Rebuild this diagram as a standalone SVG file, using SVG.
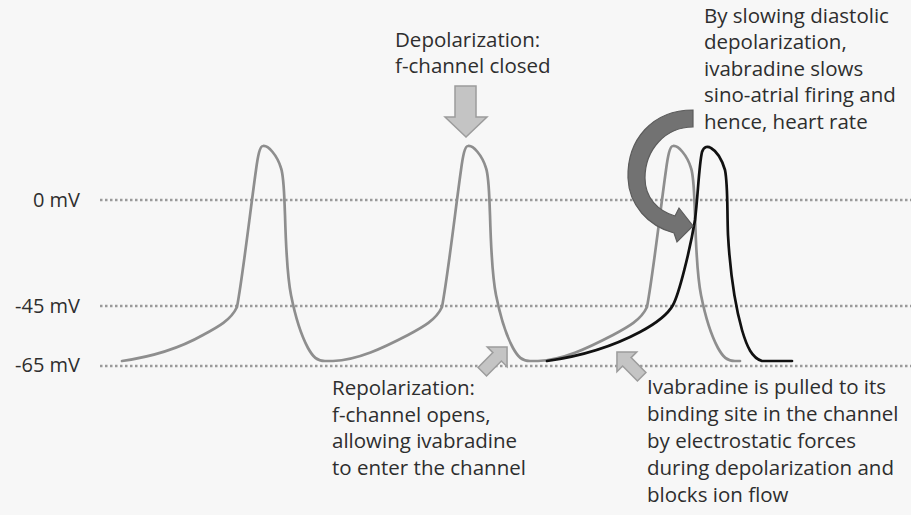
<svg xmlns="http://www.w3.org/2000/svg" width="911" height="515" viewBox="0 0 911 515">
  <style>
    .txt { font-family: "Open Sans", "Noto Sans", "Liberation Sans", sans-serif; font-size: 20.5px; fill: #2e2e2e; }
    .axis { font-family: "Open Sans", "Noto Sans", "Liberation Sans", sans-serif; font-size: 20px; fill: #2e2e2e; text-anchor: end; }
    .grid { stroke: #9a9a9a; stroke-width: 2.5; stroke-dasharray: 2.5 2.5; fill: none; }
    .gray { stroke: #8e8e8e; stroke-width: 2.7; fill: none; stroke-linejoin: round; stroke-linecap: round; }
    .black { stroke: #111111; stroke-width: 2.7; fill: none; stroke-linejoin: round; stroke-linecap: round; }
    .blk { fill: #c4c4c4; stroke: #9c9c9c; stroke-width: 1.5; stroke-linejoin: miter; }
    .curved { fill: #727272; stroke: #5c5c5c; stroke-width: 1.2; }
  </style>
  <defs>
    <polygon id="blockArrow" points="0,-6 21,-6 21,-14 35,0 21,14 21,6 0,6"/>
  </defs>
  <rect width="911" height="515" fill="#f7f7f7"/>

  <g id="grid">
    <line class="grid" x1="100" y1="200" x2="911" y2="200"/>
    <line class="grid" x1="100" y1="306" x2="911" y2="306"/>
    <line class="grid" x1="100" y1="366" x2="911" y2="366"/>
  </g>

  <g id="axis-labels">
    <text class="axis" x="80" y="207">0 mV</text>
    <text class="axis" x="80" y="313">-45 mV</text>
    <text class="axis" x="80" y="372">-65 mV</text>
  </g>

  <g id="baseline-trace">
    <path class="gray" d="M122,361 C150,357 180,348 203,335 C218,327 231,320 237,307 C243,275 251,205 256,170 C258,155 260,146 263,146 C268,145 277,155 281,168 C284,177 284,190 285,215 C286,250 287,275 291,295 C295,315 301,335 308,348 C313,357 317,361 325,361 L333,361 C358,360 383,348 408,335 C423,327 436,320 442,307 C448,275 456,205 461,170 C463,155 465,146 468,146 C473,145 482,155 486,168 C489,177 489,190 490,215 C491,250 492,275 496,295 C500,315 506,335 513,348 C518,357 522,361 530,361 L538,361 C563,360 588,348 613,335 C628,327 641,320 647,307 C653,275 661,205 666,170 C668,155 670,146 673,146 C678,145 687,155 691,168 C694,177 694,190 695,215 C696,250 697,275 701,295 C705,315 711,335 718,348 C723,357 727,361 735,361 L740,361"/>
  </g>

  <g id="ivabradine-trace">
    <path class="black" d="M547,361 C575,357 610,348 640,332 C655,324 667,316 673,305 C679,294 690,250 695,220 C698,195 699,165 702,152 C704,146 708,146 711,148 C718,152 722,160 725,170 C728,185 727,210 728,235 C730,270 735,305 742,330 C747,347 752,358 762,361 L792,361"/>
  </g>

  <g id="connectors">
    <polygon id="arrow-depolarization" class="blk" points="455,86 476,86 476,117 487,117 466,137 445,117 455,117"/>
    <use id="arrow-repolarization" href="#blockArrow" class="blk" transform="translate(482.3,371.7) rotate(-45)"/>
    <use id="arrow-binding" href="#blockArrow" class="blk" transform="translate(641.7,376.7) rotate(-135)"/>
    <path id="arrow-slowing" class="curved" d="M693,110 C652,110 627,140 628,178 C629,205 648,226 674,233 L677,242 L693,226 L679,208 L675,216 C658,211 645,198 645,178 C645,150 665,127 693,127 Z"/>
  </g>

  <g id="label-depolarization">
    <text class="txt" x="395" y="47">Depolarization:</text>
    <text class="txt" x="395" y="73">f-channel closed</text>
  </g>

  <g id="label-slowing">
    <text class="txt" x="704" y="23">By slowing diastolic</text>
    <text class="txt" x="704" y="49">depolarization,</text>
    <text class="txt" x="704" y="76">ivabradine slows</text>
    <text class="txt" x="704" y="102">sino-atrial firing and</text>
    <text class="txt" x="704" y="129">hence, heart rate</text>
  </g>

  <g id="label-repolarization">
    <text class="txt" x="332" y="395">Repolarization:</text>
    <text class="txt" x="332" y="422">f-channel opens,</text>
    <text class="txt" x="332" y="448">allowing ivabradine</text>
    <text class="txt" x="332" y="475">to enter the channel</text>
  </g>

  <g id="label-binding">
    <text class="txt" x="647" y="394">Ivabradine is pulled to its</text>
    <text class="txt" x="647" y="421">binding site in the channel</text>
    <text class="txt" x="647" y="448">by electrostatic forces</text>
    <text class="txt" x="647" y="475">during depolarization and</text>
    <text class="txt" x="647" y="502">blocks ion flow</text>
  </g>
</svg>
